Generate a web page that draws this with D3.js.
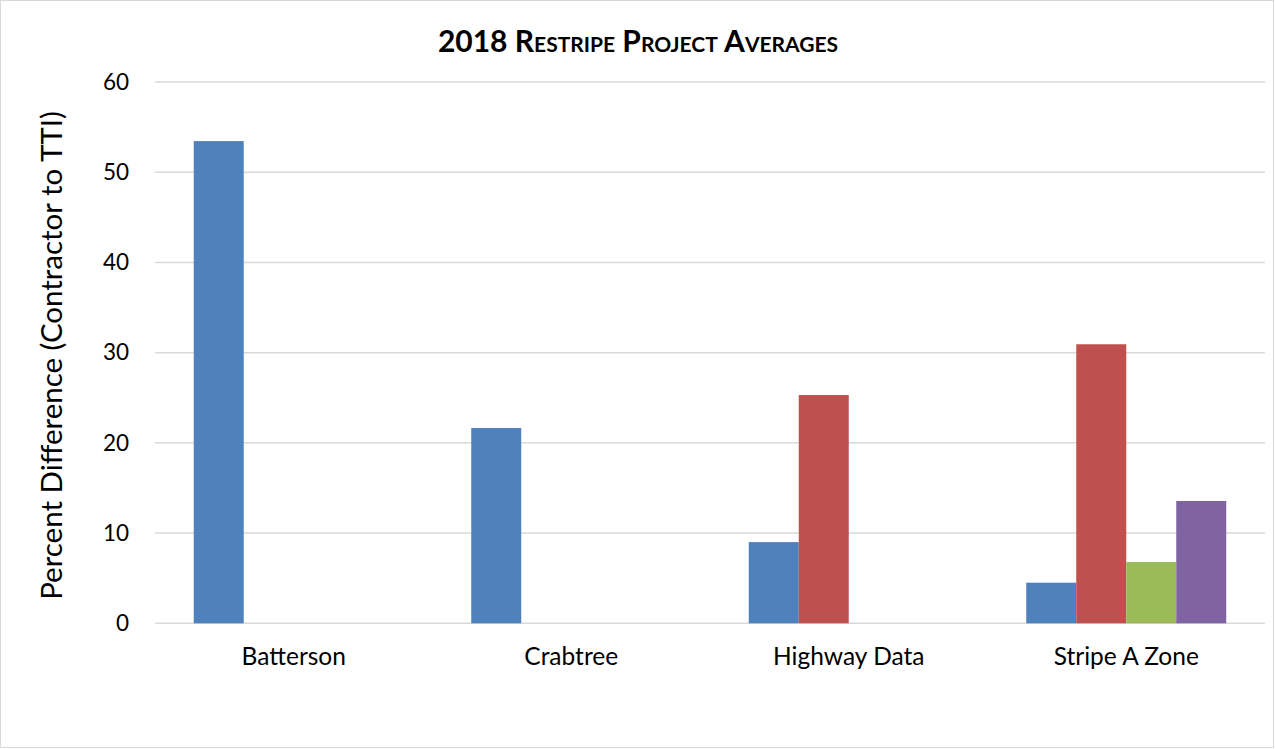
<!DOCTYPE html>
<html><head><meta charset="utf-8">
<script src="https://cdn.jsdelivr.net/npm/d3@7"></script>
<style>html,body{margin:0;padding:0;background:#fff;} text{font-family:Lato,"Open Sans",sans-serif;}</style>
</head><body>
<svg id="chart" width="1275" height="749"></svg>
<script>
const categories = ["Batterson", "Crabtree", "Highway Data", "Stripe A Zone"];
const seriesNames = ["Series 1", "Series 2", "Series 3", "Series 4"];
const series1 = [53.45, 21.65, 9.0, 4.5];
const series2 = [null, null, 25.3, 30.93];
const series3 = [null, null, null, 6.8];
const series4 = [null, null, null, 13.56];
const seriesColors = ["#4F81BD", "#C0504D", "#9BBB59", "#8064A2"];
const yTicks = [0, 10, 20, 30, 40, 50, 60];
const titleText = "2018 Restripe Project Averages";
const yTitle = "Percent Difference (Contractor to TTI)";

const allSeries = [series1, series2, series3, series4];
const svg = d3.select("#chart");
svg.append("rect").attr("x",0.5).attr("y",0.5).attr("width",1273).attr("height",747)
  .attr("fill","#fff").attr("stroke","#d9d9d9").attr("stroke-width",1);

const x0 = d3.scaleBand().domain(categories).range([155,1265]).paddingInner(0.2793).paddingOuter(0.2793/2);
const x1 = d3.scaleBand().domain(seriesNames).range([0, x0.bandwidth()]);
const y = d3.scaleLinear().domain([0,60]).range([623.3,82]);

// gridlines
svg.append("g").selectAll("line").data(yTicks).join("line")
  .attr("x1",155).attr("x2",1265).attr("y1",d=>y(d)).attr("y2",d=>y(d))
  .attr("stroke","#d9d9d9").attr("stroke-width",1.5);

// y axis labels
const yAxis = d3.axisLeft(y).tickValues(yTicks).tickSize(0).tickPadding(0);
const gy = svg.append("g").attr("transform","translate(129,0)").call(yAxis);
gy.select(".domain").remove();
gy.selectAll("text").attr("font-size",22.5).attr("fill","#000").attr("font-family","Lato,'Open Sans',sans-serif");

// bars
const flat = [];
categories.forEach((c,i)=>allSeries.forEach((s,j)=>{ if(s[i]!=null) flat.push({c, s:seriesNames[j], v:s[i], color:seriesColors[j]}); }));
svg.append("g").selectAll("rect").data(flat).join("rect")
  .attr("x",d=>x0(d.c)+x1(d.s)).attr("width",x1.bandwidth())
  .attr("y",d=>y(d.v)).attr("height",d=>y(0)-y(d.v)).attr("fill",d=>d.color);

// x labels
const xAxis = d3.axisBottom(x0).tickSize(0).tickPadding(0);
const gx = svg.append("g").attr("transform","translate(0,648)").call(xAxis);
gx.select(".domain").remove();
gx.selectAll("text").attr("font-size",24.5).attr("fill","#000").attr("font-family","Lato,'Open Sans',sans-serif");

// title
svg.append("text").attr("x",638).attr("y",52).attr("text-anchor","middle")
  .attr("font-size",30).attr("font-weight","bold").style("font-variant","small-caps").text(titleText);

// y title
svg.append("text").attr("transform","translate(62,355.5) rotate(-90)").attr("text-anchor","middle")
  .attr("font-size",29.5).text(yTitle);
</script>
</body></html>
